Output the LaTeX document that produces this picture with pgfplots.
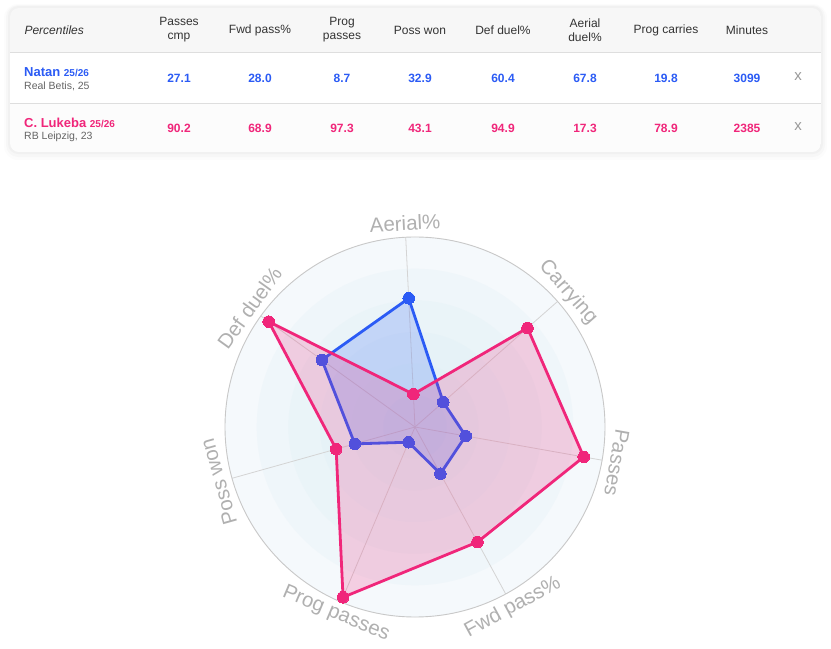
\documentclass[border=0pt]{standalone}
\usepackage{pgfplots}
\pgfplotsset{compat=1.18}
\usepackage{fontspec}
\setmainfont{Liberation Sans}
\definecolor{nblue}{RGB}{43,91,245}
\definecolor{lpink}{RGB}{240,38,122}
\definecolor{lbl}{RGB}{176,176,176}
\definecolor{hdr}{RGB}{51,51,51}
\definecolor{sub}{RGB}{100,100,100}
\definecolor{hbg}{RGB}{247,247,247}
\definecolor{r2bg}{RGB}{252,252,252}
\definecolor{sep}{RGB}{222,222,222}
\definecolor{ringA}{RGB}{245,249,252}
\definecolor{ringB}{RGB}{239,246,250}
\definecolor{ringC}{RGB}{234,244,248}
\definecolor{ringD}{RGB}{230,242,247}
\definecolor{ringE}{RGB}{227,241,246}
\definecolor{ringF}{RGB}{224,240,245}
\definecolor{spoke}{RGB}{212,212,212}
\definecolor{rim}{RGB}{200,200,200}
\newcommand{\fs}[1]{\fontsize{#1}{#1}\selectfont}
\begin{document}
\begin{tikzpicture}
\begin{axis}[name=main, hide axis, clip=false, scale only axis,
  x=1pt, y=1pt, xmin=0, xmax=831, ymin=0, ymax=646, y dir=reverse]
\fill[white] (0,0) rectangle (831,646);
% card shadow
\fill[black, opacity=0.012, rounded corners=14pt] (4,4) rectangle (827,160);
\fill[black, opacity=0.018, rounded corners=12pt] (6,5) rectangle (825,157);
\fill[black, opacity=0.025, rounded corners=10pt] (8,6) rectangle (823,154);
\begin{scope}
\clip[rounded corners=9pt] (10,8) rectangle (821,152);
\fill[hbg] (10,8) rectangle (821,52.5);
\fill[white] (10,52.5) rectangle (821,103.5);
\fill[r2bg] (10,103.5) rectangle (821,152);
\end{scope}
\draw[sep, line width=1pt] (10,52.5) -- (821,52.5);
\draw[sep, line width=1pt] (10,103.5) -- (821,103.5);
% header
\node[anchor=west, text=hdr, font=\fs{12}\itshape] at (21,30) {Percentiles};
\node[align=center, text=hdr, font=\fontsize{12}{14}\selectfont] at (179,30) {Passes\\cmp};
\node[text=hdr, font=\fs{12}] at (260,30) {Fwd pass\%};
\node[align=center, text=hdr, font=\fontsize{12}{14}\selectfont] at (342,30) {Prog\\passes};
\node[text=hdr, font=\fs{12}] at (420,30) {Poss won};
\node[text=hdr, font=\fs{12}] at (503,30) {Def duel\%};
\node[align=center, text=hdr, font=\fontsize{12}{14}\selectfont] at (585,30) {Aerial\\duel\%};
\node[text=hdr, font=\fs{12}] at (666,30) {Prog carries};
\node[text=hdr, font=\fs{12}] at (747,30) {Minutes};
% row 1
\node[anchor=west, text=nblue, inner sep=0pt] at (24,72) {\bfseries\fs{13}Natan \fs{10}25/26};
\node[anchor=west, text=sub, inner sep=0pt, font=\fs{10.5}] at (24,86) {Real Betis, 25};
\node[text=nblue, font=\bfseries\fs{12}] at (179,78) {27.1};
\node[text=nblue, font=\bfseries\fs{12}] at (260,78) {28.0};
\node[text=nblue, font=\bfseries\fs{12}] at (342,78) {8.7};
\node[text=nblue, font=\bfseries\fs{12}] at (420,78) {32.9};
\node[text=nblue, font=\bfseries\fs{12}] at (503,78) {60.4};
\node[text=nblue, font=\bfseries\fs{12}] at (585,78) {67.8};
\node[text=nblue, font=\bfseries\fs{12}] at (666,78) {19.8};
\node[text=nblue, font=\bfseries\fs{12}] at (747,78) {3099};
\node[text=gray!80, font=\fs{15}] at (798,77) {x};
% row 2
\node[anchor=west, text=lpink, inner sep=0pt] at (24,123) {\bfseries\fs{13}C. Lukeba \fs{10}25/26};
\node[anchor=west, text=sub, inner sep=0pt, font=\fs{10.5}] at (24,137) {RB Leipzig, 23};
\node[text=lpink, font=\bfseries\fs{12}] at (179,128) {90.2};
\node[text=lpink, font=\bfseries\fs{12}] at (260,128) {68.9};
\node[text=lpink, font=\bfseries\fs{12}] at (342,128) {97.3};
\node[text=lpink, font=\bfseries\fs{12}] at (420,128) {43.1};
\node[text=lpink, font=\bfseries\fs{12}] at (503,128) {94.9};
\node[text=lpink, font=\bfseries\fs{12}] at (585,128) {17.3};
\node[text=lpink, font=\bfseries\fs{12}] at (666,128) {78.9};
\node[text=lpink, font=\bfseries\fs{12}] at (747,128) {2385};
\node[text=gray!80, font=\fs{15}] at (798,127) {x};
\coordinate (rc) at (415,427);
\end{axis}

\begin{axis}[at={(rc)}, anchor=center, hide axis, clip=false, scale only axis,
  clip marker paths=true,
  x=1.9pt, y=1.9pt, xmin=-100, xmax=100, ymin=-100, ymax=100]
\fill[ringA] (0,0) circle[radius=190pt];
\fill[ringB] (0,0) circle[radius=158.3pt];
\fill[ringC] (0,0) circle[radius=126.7pt];
\fill[ringD] (0,0) circle[radius=95pt];
\fill[ringE] (0,0) circle[radius=63.3pt];
\fill[ringF] (0,0) circle[radius=31.7pt];
\draw[spoke, line width=0.8pt] (0,0) -- ++(92.8:190pt);
\draw[spoke, line width=0.8pt] (0,0) -- ++(41.37:190pt);
\draw[spoke, line width=0.8pt] (0,0) -- ++(-10.06:190pt);
\draw[spoke, line width=0.8pt] (0,0) -- ++(-61.49:190pt);
\draw[spoke, line width=0.8pt] (0,0) -- ++(-112.91:190pt);
\draw[spoke, line width=0.8pt] (0,0) -- ++(-164.34:190pt);
\draw[spoke, line width=0.8pt] (0,0) -- ++(144.23:190pt);
\draw[rim, line width=0.9pt] (0,0) circle[radius=190pt];
% labels
\path (0,0) ++(92.8:204pt) node[rotate=2.8, text=lbl, font=\fs{20.5}] {Aerial\%};
\path (0,0) ++(41.37:204pt) node[rotate=-48.63, text=lbl, font=\fs{20.5}] {Carrying};
\path (0,0) ++(-10.06:205pt) node[rotate=-100.06, text=lbl, font=\fs{20.5}] {Passes};
\path (0,0) ++(-61.49:205pt) node[rotate=28.51, text=lbl, font=\fs{20.5}] {Fwd pass\%};
\path (0,0) ++(-112.91:203pt) node[rotate=-22.91, text=lbl, font=\fs{20.5}] {Prog passes};
\path (0,0) ++(-164.34:204pt) node[rotate=105.66, text=lbl, font=\fs{20.5}] {Poss won};
\path (0,0) ++(144.23:204pt) node[rotate=54.23, text=lbl, font=\fs{20.5}] {Def duel\%};
% Natan (Aerial, Carrying, Passes, Fwd, Prog passes, Poss won, Def duel)
\addplot[data cs=polar, draw=nblue, line width=2.8pt, line join=round,
  fill=nblue, fill opacity=0.2, mark=*, mark size=5.8pt,
  mark options={fill=nblue, draw=nblue, line width=0pt, fill opacity=1}]
  coordinates {(92.8,67.8) (41.37,19.8) (-10.06,27.1) (-61.49,28.0)
   (-112.91,8.7) (-164.34,32.9) (144.23,60.4) (92.8,67.8)};
% Lukeba
\addplot[data cs=polar, draw=lpink, line width=2.8pt, line join=round,
  fill=lpink, fill opacity=0.2, mark=*, mark size=5.8pt,
  mark options={fill=lpink, draw=lpink, line width=0pt, fill opacity=1}]
  coordinates {(92.8,17.3) (41.37,78.9) (-10.06,90.2) (-61.49,68.9)
   (-112.91,97.3) (-164.34,43.1) (144.23,94.9) (92.8,17.3)};
\end{axis}
\end{tikzpicture}
\end{document}
